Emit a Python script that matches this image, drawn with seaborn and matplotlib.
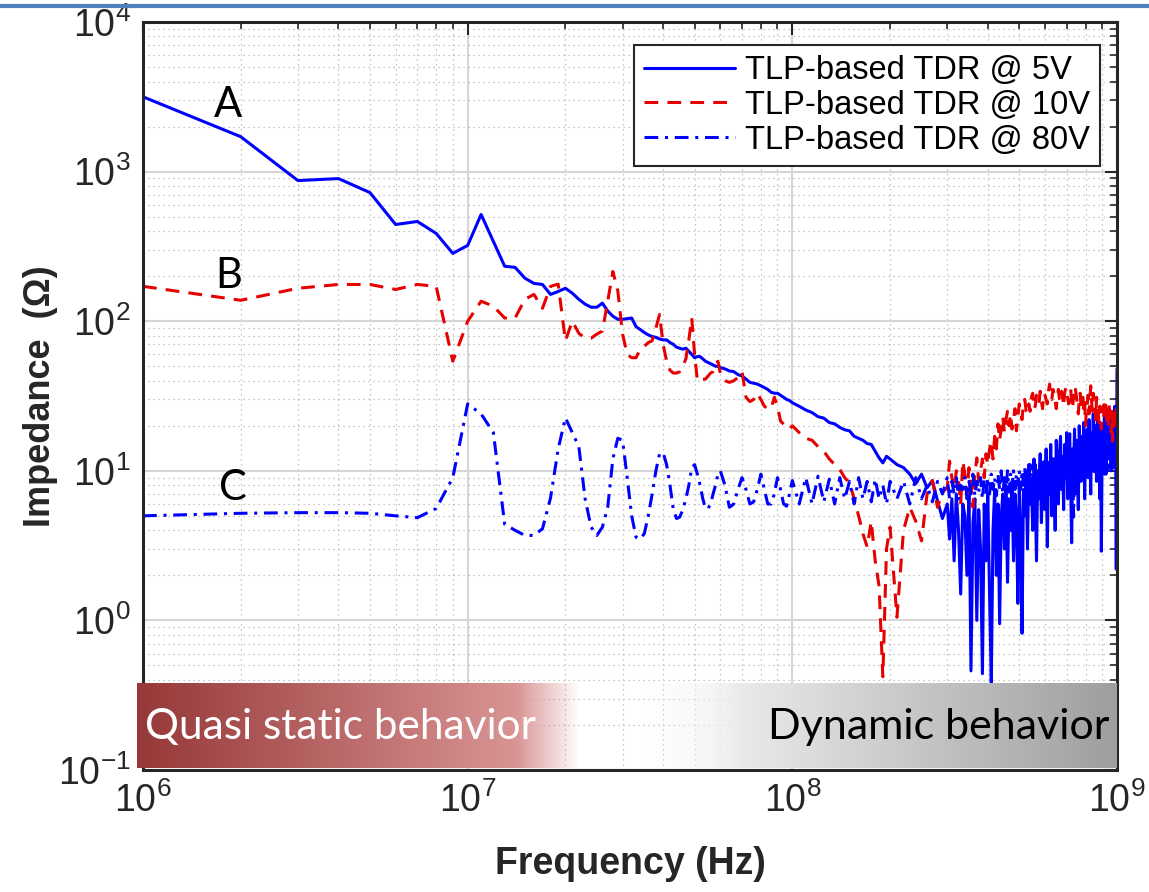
import numpy as np
import pandas as pd
import matplotlib
matplotlib.use("Agg")
import matplotlib.pyplot as plt
import seaborn as sns
from matplotlib.ticker import LogLocator, NullFormatter, LogFormatterSciNotation

# ---------------- data ----------------
freq_mhz = (list(range(1, 61)) + list(range(62, 101, 2)) +
            list(range(105, 201, 5)) + list(range(210, 301, 10)) +
            list(range(305, 1001, 5)))

z_5v = [3162, 1711, 871, 898, 724, 443, 464, 386, 284, 321,
        517, 341, 233, 229, 194, 179, 176, 151, 158, 166,
        154, 140, 130, 124, 124, 132, 117, 108, 103, 103,
        104, 105, 92, 88, 84, 81, 79, 78, 76, 75,
        75, 72, 70, 67, 66, 65, 66, 63, 60, 57,
        58, 58, 56, 54, 53, 52, 51, 50, 50, 49,
        48, 46.5, 46, 44, 43, 41, 39, 38.5, 38, 37,
        36, 35, 33.5, 33, 33, 32, 31, 30, 29.5, 28.5,
        27, 25.5, 24.5, 23, 22.5, 21, 20.6, 19.5, 18.8, 18.5,
        17, 16.5, 16, 15.2, 15, 13.5, 12.2, 11.3, 12.5, 12,
        11, 10.5, 9.5, 8.2, 9.5, 7.7, 8.6, 6.3, 4.8, 6.0,
        3.5, 6.5, 2.5, 7.0, 4.0, 1.5, 6.0, 5.0, 2.0, 7.5,
        0.46, 4.5, 6.5, 1.0, 5.5, 3.0, 0.44, 6.0, 2.5, 7.0,
        1.5, 0.38, 4.0, 7.5, 2.0, 6.0, 0.95, 5.0, 7.0, 3.0,
        8.0, 1.8, 6.5, 4.0, 8.5, 2.5, 7.0, 5.0, 1.3, 8.0,
        3.5, 0.82, 7.5, 5.0, 9.5, 3.0, 11, 6.0, 8.5, 4.0,
        12, 7.0, 2.5, 10, 6.5, 13, 4.5, 9.0, 11.5, 5.5,
        14, 3.1, 10, 7.0, 15, 5.0, 12, 8.5, 4.0, 16,
        9.5, 6.0, 13, 17, 7.5, 11, 5.5, 15, 9.0, 18,
        6.5, 12, 17.7, 8.0, 3.3, 14, 10, 19, 7.0, 16,
        11, 5.5, 20, 13, 8.5, 17, 10, 21, 6.5, 15,
        12, 19, 9.0, 22, 14, 7.0, 18, 11, 24, 10,
        16, 20, 8.5, 23, 13, 18, 6.5, 21, 2.9, 15,
        19, 11, 24, 14, 9.5, 22, 17, 12, 26, 15,
        20, 10, 25, 16, 19, 13, 27, 18, 2.2, 48]

z_10v = [171, 138, 166, 176, 176, 163, 176, 171, 54, 100,
         136, 126, 105, 105, 140, 151, 122, 171, 177, 74,
         100, 83, 77, 77, 82, 86, 136, 215, 160, 82,
         60, 57, 57, 65, 68, 72, 74, 90, 111, 70,
         54, 47, 45, 45, 46, 50, 56, 75, 105, 60,
         40, 40, 41, 41, 43, 45, 46, 50, 54, 45,
         40, 39, 40, 42, 46, 31, 29, 30, 33, 30,
         27, 26, 26, 31, 27, 21.5, 20.5, 20, 19, 20,
         18, 16.5, 16, 14.5, 13.5, 12, 11, 10.2, 9, 8.3,
         6.5, 5.0, 3.8, 3.1, 4.6, 2.5, 1.7, 0.42, 3.0, 4.2,
         1.05, 4.0, 5.7, 4.6, 3.4, 7.0, 8.6, 5.7, 7.2, 7.7,
         11.6, 9.0, 7.5, 10, 8.6, 6.0, 11.6, 9.5, 7.0, 10.5,
         8.0, 5.7, 9.5, 12.2, 8.5, 10, 12, 9.0, 13, 11,
         14, 15.8, 12, 17, 14, 20.6, 16, 19, 23, 18,
         22, 25, 20, 24, 19, 22, 26, 18.5, 23, 28,
         24, 22, 29, 30, 25, 24, 28, 25, 31, 33,
         26, 27, 32, 30, 28, 34, 29, 26, 33, 32,
         30, 28, 34, 38, 31, 30, 35, 33, 29, 26,
         32, 35, 30, 29, 34, 31, 27, 33, 36, 33,
         30, 28, 34, 35, 29, 26, 32, 30, 35, 31,
         28, 24, 30, 33, 27, 29, 31, 26, 30, 20,
         26, 28, 32, 24, 30, 37, 29, 25, 33, 30,
         27, 22, 31, 28, 24, 21, 27, 23, 19, 26,
         27, 22, 30, 25, 29, 21, 26, 20, 28, 24,
         22, 18, 25, 15.8, 22, 26, 19, 20, 28, 25]

z_80v = [5.0, 5.2, 5.25, 5.25, 5.2, 5.0, 4.86, 5.6, 9.0, 28,
         24, 18, 4.4, 4.0, 3.7, 3.7, 4.1, 6.6, 14, 22.6,
         18, 14.5, 6.5, 4.2, 3.7, 4.2, 5.7, 12, 16.5, 16,
         9, 5, 3.6, 3.5, 3.8, 5, 7, 10, 13, 13.2,
         11, 8, 5.5, 4.8, 4.9, 5.5, 6.5, 8, 10.5, 11,
         9.5, 8, 6.5, 5.6, 5.6, 6, 7, 8, 9.5, 10,
         8, 5.7, 6, 7.5, 9, 7.5, 6, 6.2, 7.5, 9.5,
         7.5, 6, 6, 7, 9, 7.5, 6, 5.8, 7, 8.6,
         6, 9, 6, 9.2, 6.2, 8.8, 6, 9, 6.5, 8.5,
         6, 9, 6.5, 8.5, 6.2, 8.8, 6.5, 8, 6, 8.5,
         6.5, 8.5, 6, 9, 6.5, 8, 6.2, 8.5, 7, 9,
         6.5, 8.5, 7, 9, 6.5, 8, 7.5, 9, 6.5, 8.5,
         7, 9.5, 6.8, 8.5, 7.2, 9, 6.5, 8.8, 7, 9,
         7, 9.5, 7.5, 9, 6.8, 9.5, 7.5, 10, 7, 9,
         7.5, 10, 7.2, 9.5, 7.8, 10, 7.5, 9.5, 8, 10,
         7.5, 10, 8, 10.5, 7.5, 10, 8.2, 11, 7.8, 10.5,
         8, 11, 8.5, 10, 7.5, 11, 8, 10.5, 8.5, 11.5,
         8, 11, 8.5, 12, 8, 11.5, 9, 12, 8.5, 11,
         9, 12, 8.2, 11.5, 9, 12.5, 8.5, 11, 9.5, 12,
         9, 12.5, 8.5, 11, 9, 12, 4.9, 11.5, 9, 12.5,
         9.5, 13, 9, 12, 9.5, 13, 8.8, 12.5, 9.5, 13,
         9.5, 13, 9, 12.5, 10, 13.5, 9.5, 12, 10, 13,
         9.5, 13.5, 10, 12.5, 9.5, 14, 10, 13, 10.5, 14,
         10, 13.5, 9.5, 14, 10.5, 13, 10, 14.5, 10.5, 13.5,
         10, 14, 11, 13.5, 10.5, 15, 11, 14, 10.5, 14]

series_labels = ["TLP-based TDR @ 5V", "TLP-based TDR @ 10V", "TLP-based TDR @ 80V"]
curve_letters = ["A", "B", "C"]
region_labels = ["Quasi static behavior", "Dynamic behavior"]

# ---------------- styling ----------------
sns.set_theme(style="white")
plt.rcParams['font.family'] = ['Liberation Sans', 'DejaVu Sans']
plt.rcParams['mathtext.default'] = 'regular'

W, H = 1149, 892
fig = plt.figure(figsize=(W / 100, H / 100), dpi=100)
ax = fig.add_axes([143 / W, 1 - 770 / H, (1117 - 143) / W, (770 - 22) / H])

freq_hz = np.array(freq_mhz, dtype=float) * 1e6
df = pd.DataFrame({"f": np.tile(freq_hz, 3),
                   "z": np.concatenate([z_5v, z_10v, z_80v]),
                   "s": np.repeat(series_labels, len(freq_hz))})

styles = [("#0000FF", "-"), ("#E60000", (0, (4.5, 3))), ("#0000FF", (0, (4.5, 2.2, 1, 2.2)))]
for lab, (col, ls) in zip(series_labels, styles):
    sub = df[df["s"] == lab]
    sns.lineplot(data=sub, x="f", y="z", ax=ax, color=col, linestyle=ls,
                 linewidth=2.2, label=lab, estimator=None, sort=True)

ax.set_xscale("log")
ax.set_yscale("log")
ax.set_xlim(1e6, 1e9)
ax.set_ylim(1e-1, 1e4)

ax.xaxis.set_major_locator(LogLocator(base=10, numticks=10))
ax.yaxis.set_major_locator(LogLocator(base=10, numticks=10))
ax.xaxis.set_minor_locator(LogLocator(base=10, subs=np.arange(2, 10), numticks=100))
ax.yaxis.set_minor_locator(LogLocator(base=10, subs=np.arange(2, 10), numticks=100))
ax.xaxis.set_minor_formatter(NullFormatter())
ax.yaxis.set_minor_formatter(NullFormatter())
ax.xaxis.set_major_formatter(LogFormatterSciNotation())
ax.yaxis.set_major_formatter(LogFormatterSciNotation())

ax.set_axisbelow(True)
ax.grid(which="major", color="#d6d6d6", lw=1.5, ls="-")
ax.grid(which="minor", color="#b5b5b5", lw=0.9, ls=(0, (1, 3)))

ax.tick_params(which="both", direction="in", top=True, right=True,
               colors="#262626", labelsize=27)
ax.tick_params(which="major", length=9, width=1.5, pad=9)
ax.tick_params(which="minor", length=5, width=1.2)
for sp in ax.spines.values():
    sp.set_color("#262626")
    sp.set_linewidth(2.2)

ax.set_xlabel("Frequency (Hz)", fontsize=27, fontweight="bold", color="#262626")
ax.set_ylabel("Impedance  (\u03a9)", fontsize=26, fontweight="bold", color="#262626")
ax.xaxis.set_label_coords(0.5, -0.102)
ax.yaxis.set_label_coords(-0.087, 0.5)

leg = ax.legend(loc="upper right", bbox_to_anchor=(0.9825, 0.969), fontsize=23.5,
                frameon=True, fancybox=False, edgecolor="#262626", framealpha=1,
                handlelength=2.8, borderpad=0.3, labelspacing=0.12,
                handletextpad=0.3, borderaxespad=0)
leg.get_frame().set_linewidth(1.5)
for t in leg.get_texts():
    t.set_color("black")

# curve letters
letter_pos = [(1.83e6, 2800), (1.83e6, 200), (1.89e6, 7.7)]
for letter, (lx, ly) in zip(curve_letters, letter_pos):
    ax.text(lx, ly, letter, fontsize=30, family=["Lato", "DejaVu Sans"],
            ha="center", va="center", color="black")

# gradient region boxes
t = np.linspace(0, 1, 600)
c0 = np.array([0.59, 0.22, 0.22])
c1 = np.array([0.86, 0.59, 0.59])
mix = np.clip(t / 0.88, 0, 1)[:, None]
rgb_left = c0 * (1 - mix) + c1 * mix
alpha_left = np.clip((1.0 - t) / 0.14, 0, 1)
img_left = np.concatenate([rgb_left, alpha_left[:, None]], axis=1)[None, :, :]
bx1 = fig.add_axes([137 / W, 1 - 768 / H, (580 - 137) / W, (768 - 683) / H])
bx1.imshow(img_left, aspect="auto", extent=[0, 1, 0, 1])
bx1.axis("off")
bx1.text(0.018, 0.48, region_labels[0], fontsize=30.5, family=["Lato", "DejaVu Sans"],
         color="white", ha="left", va="center", transform=bx1.transAxes)

g0 = 0.96
g1 = 0.62
mix2 = np.clip((t - 0.1) / 0.9, 0, 1)[:, None]
rgb_right = np.repeat((g0 * (1 - mix2) + g1 * mix2), 3, axis=1)
alpha_right = np.clip(t / 0.22, 0, 1)
img_right = np.concatenate([rgb_right, alpha_right[:, None]], axis=1)[None, :, :]
bx2 = fig.add_axes([640 / W, 1 - 768 / H, (1117 - 640) / W, (768 - 683) / H])
bx2.imshow(img_right, aspect="auto", extent=[0, 1, 0, 1])
bx2.axis("off")
bx2.text(0.983, 0.48, region_labels[1], fontsize=31, family=["Lato", "DejaVu Sans"],
         color="black", ha="right", va="center", transform=bx2.transAxes)

# slide border line at the top
fig.add_artist(plt.Line2D([0, 1], [1 - 6 / H, 1 - 6 / H], transform=fig.transFigure,
                          color="#4F81BD", lw=3))

fig.savefig("out.png", dpi=100)
